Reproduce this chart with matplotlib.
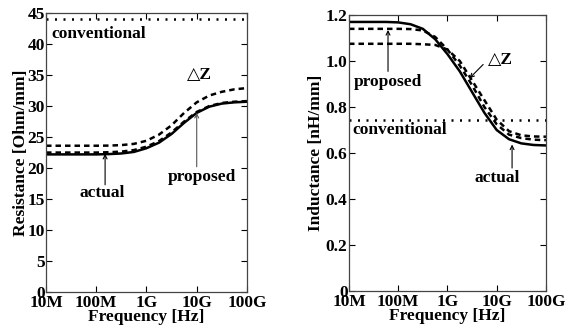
import matplotlib
matplotlib.use("Agg")
import matplotlib.pyplot as plt

plt.rcParams['font.family'] = ['Liberation Serif', 'DejaVu Serif']
plt.rcParams['font.weight'] = 'bold'

# frequency grid [Hz], quarter-decade steps from 10M to 100G
freq = [1e7, 1.78e7, 3.16e7, 5.62e7, 1e8, 1.78e8, 3.16e8, 5.62e8, 1e9,
        1.78e9, 3.16e9, 5.62e9, 1e10, 1.78e10, 3.16e10, 5.62e10, 1e11]

# resistance [Ohm/mm]
r_actual = [22.2, 22.2, 22.2, 22.2, 22.2, 22.25, 22.35, 22.6, 23.2,
            24.1, 25.5, 27.3, 28.9, 29.9, 30.4, 30.6, 30.7]
r_proposed = [22.5, 22.5, 22.5, 22.5, 22.5, 22.55, 22.65, 22.9, 23.45,
              24.35, 25.75, 27.5, 29.05, 30.0, 30.5, 30.7, 30.8]
r_dz = [23.6, 23.6, 23.6, 23.6, 23.6, 23.62, 23.7, 23.9, 24.4,
        25.4, 26.9, 28.9, 30.6, 31.7, 32.3, 32.7, 32.9]
r_conv = 44.0

# inductance [nH/mm]
l_actual = [1.17, 1.17, 1.17, 1.17, 1.168, 1.16, 1.14, 1.095, 1.03,
            0.955, 0.865, 0.775, 0.70, 0.66, 0.642, 0.635, 0.633]
l_proposed = [1.14, 1.14, 1.14, 1.14, 1.14, 1.139, 1.133, 1.105, 1.05,
              0.98, 0.895, 0.80, 0.725, 0.68, 0.665, 0.658, 0.656]
l_dz = [1.075, 1.075, 1.075, 1.075, 1.075, 1.075, 1.073, 1.07, 1.05,
        1.0, 0.915, 0.83, 0.745, 0.695, 0.677, 0.672, 0.671]
l_conv = 0.743

xticks = [1e7, 1e8, 1e9, 1e10, 1e11]
xlabels = ['10M', '100M', '1G', '10G', '100G']

fig = plt.figure(figsize=(5.66, 3.27), dpi=100)
ax1 = fig.add_axes([0.0813, 0.107, 0.355, 0.853])
ax2 = fig.add_axes([0.6166, 0.110, 0.348, 0.844])

dash = (0, (2.2, 1.6))
dots = (0, (0.8, 2.6))
arrow = dict(arrowstyle='->', color='black', lw=0.8, mutation_scale=7,
             shrinkA=0, shrinkB=0)


def style(ax):
    ax.set_xscale('log')
    ax.set_xlim(1e7, 1e11)
    ax.set_xticks(xticks)
    ax.set_xticklabels(xlabels)
    ax.tick_params(which='both', direction='in', top=True, right=True,
                   labelsize=12.5, pad=1)
    ax.tick_params(axis='x', which='major', pad=2)
    ax.tick_params(which='major', length=4, width=0.8)
    ax.tick_params(which='minor', length=2, width=0.6)
    for s in ax.spines.values():
        s.set_linewidth(0.9)
        s.set_color('#444444')
    ax.set_xlabel('Frequency [Hz]', fontsize=12.5, fontweight='bold', labelpad=-1)


# left: resistance
ax1.plot(freq, r_actual, color='black', lw=1.8, ls='-')
ax1.plot(freq, r_proposed, color='black', lw=1.8, ls=dash)
ax1.plot(freq, r_dz, color='black', lw=1.8, ls=dash)
ax1.axhline(r_conv, color='black', lw=1.8, ls=dots)
ax1.set_ylim(0, 45)
ax1.set_yticks(range(0, 46, 5))
style(ax1)
ax1.set_ylabel('Resistance [Ohm/mm]', fontsize=12.5, fontweight='bold', labelpad=-1)
ax1.text(1.3e7, 41.6, 'conventional', fontsize=12.5, fontweight='bold', va='center')
ax1.text(1.15e10, 35.0, '△Z', fontsize=12.5, fontweight='bold', ha='center', va='center')
ax1.annotate('', xy=(1.5e8, 22.3), xytext=(1.5e8, 17.3), arrowprops=arrow)
ax1.text(1.3e8, 15.9, 'actual', fontsize=12.5, fontweight='bold', ha='center', va='center')
ax1.annotate('', xy=(1e10, 28.9), xytext=(1e10, 20.2),
             arrowprops=dict(arrow, color='#555555'))
ax1.text(1.3e10, 18.5, 'proposed', fontsize=12.5, fontweight='bold', ha='center', va='center')

# right: inductance
ax2.plot(freq, l_actual, color='black', lw=1.8, ls='-')
ax2.plot(freq, l_proposed, color='black', lw=1.8, ls=dash)
ax2.plot(freq, l_dz, color='black', lw=1.8, ls=dash)
ax2.axhline(l_conv, color='black', lw=1.8, ls=dots)
ax2.set_ylim(0, 1.2)
ax2.set_yticks([0, 0.2, 0.4, 0.6, 0.8, 1.0, 1.2])
ax2.set_yticklabels(['0', '0.2', '0.4', '0.6', '0.8', '1.0', '1.2'])
style(ax2)
ax2.set_ylabel('Inductance [nH/mm]', fontsize=12.5, fontweight='bold', labelpad=1)
ax2.text(6.2e7, 0.91, 'proposed', fontsize=12.5, fontweight='bold', ha='center', va='center')
ax2.annotate('', xy=(6.2e7, 1.135), xytext=(6.2e7, 0.955), arrowprops=arrow)
ax2.text(1.05e8, 0.70, 'conventional', fontsize=12.5, fontweight='bold', ha='center', va='center')
ax2.text(1.2e10, 1.005, '△Z', fontsize=12.5, fontweight='bold', ha='center', va='center')
ax2.annotate('', xy=(2.8e9, 0.925), xytext=(5.3e9, 0.985), arrowprops=arrow)
ax2.annotate('', xy=(2.05e10, 0.637), xytext=(2.05e10, 0.535), arrowprops=arrow)
ax2.text(1e10, 0.49, 'actual', fontsize=12.5, fontweight='bold', ha='center', va='center')

fig.savefig('out.png', dpi=100)
